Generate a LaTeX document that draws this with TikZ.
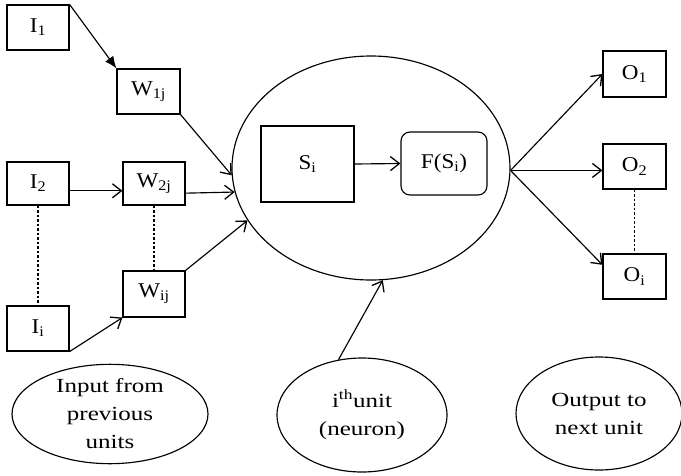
\documentclass[tikz,border=0pt]{standalone}
\usepackage{fontspec}
\setmainfont[FakeStretch=1.1]{Liberation Serif}
\newfontfamily\ellfont[FakeStretch=1.25]{Liberation Serif}
\usetikzlibrary{shapes.geometric,arrows.meta}
\begin{document}
\begin{tikzpicture}[x=1pt,y=-1pt,
  line width=1.15pt,
  box/.style={draw,rectangle,inner sep=0pt,font=\fontsize{21}{24}\selectfont},
  oval/.style={draw,ellipse,inner sep=0pt,align=center,font=\ellfont\fontsize{20}{28}\selectfont},
  arr/.style={-{Straight Barb[length=9pt,width=14pt,line width=1.3pt]}},
  dots/.style={dash pattern=on 2.5pt off 2pt}
]
\useasboundingbox (0,0) rectangle (681,475);
% input side
\node[box,minimum width=62pt,minimum height=45pt] (I1) at (38,27.5) {I\textsubscript{1}};
\node[box,minimum width=63pt,minimum height=45pt] (W1) at (148.5,91.5) {W\textsubscript{1j}};
\node[box,minimum width=62pt,minimum height=43pt] (I2) at (38,183.5) {I\textsubscript{2}};
\node[box,minimum width=62pt,minimum height=43pt] (W2) at (154,183.5) {W\textsubscript{2j}};
\node[box,minimum width=62pt,minimum height=46pt] (Wi) at (154,294) {W\textsubscript{ij}};
\node[box,minimum width=62pt,minimum height=45pt] (Ii) at (38,328.5) {I\textsubscript{i}};
% neuron
\node[draw,ellipse,inner sep=0pt,minimum width=278pt,minimum height=224pt] (big) at (371,168) {};
\node[box,minimum width=93pt,minimum height=76pt] (S) at (307.5,164) {S\textsubscript{i}};
\node[box,rounded corners=9pt,minimum width=86pt,minimum height=63pt] (F) at (444,163.5) {F(S\textsubscript{i})};
% outputs
\node[box,minimum width=63pt,minimum height=46pt] (O1) at (634.5,74) {O\textsubscript{1}};
\node[box,minimum width=63pt,minimum height=45pt] (O2) at (634.5,166.5) {O\textsubscript{2}};
\node[box,minimum width=63pt,minimum height=45pt] (Oi) at (634.5,276.5) {O\textsubscript{i}};
% legend ellipses
\node[oval,minimum width=196pt,minimum height=92pt] (inp) at (110,414) {Input from\\previous\\units};
\node[oval,minimum width=170pt,minimum height=114pt] (unit) at (362,415) {i\textsuperscript{th}unit\\(neuron)};
\node[oval,minimum width=166pt,minimum height=113pt] (out) at (599,413.5) {Output to\\next unit};
\coordinate (hub) at (big.-1);
% connectors
\draw[-{Latex[length=12pt,width=10pt]}] (I1.north east) -- (W1.north west);
\draw[arr] (W1.south east) -- (big.183);
\draw[arr] (I2.-13) -- (I2.-13 -| W2.west);
\draw[arr] (W2.-17) -- (big.190);
\draw[arr] (Wi.north east) -- (big.203);
\draw[arr] (Ii.south east) -- (Wi.south west);
\draw[dots] (I2.south) -- (Ii.north);
\draw[dots] (W2.south) -- (Wi.north);
\draw[arr] (S.east) -- (F.west);
\draw[arr] (hub) -- (O1.west);
\draw[arr] (hub) -- (hub -| O2.west);
\draw[arr] (hub) -- (Oi.160);
\draw[dots] (O2.south) -- (Oi.north);
\draw[arr] (unit.113) -- (big.-84);
\end{tikzpicture}
\end{document}
